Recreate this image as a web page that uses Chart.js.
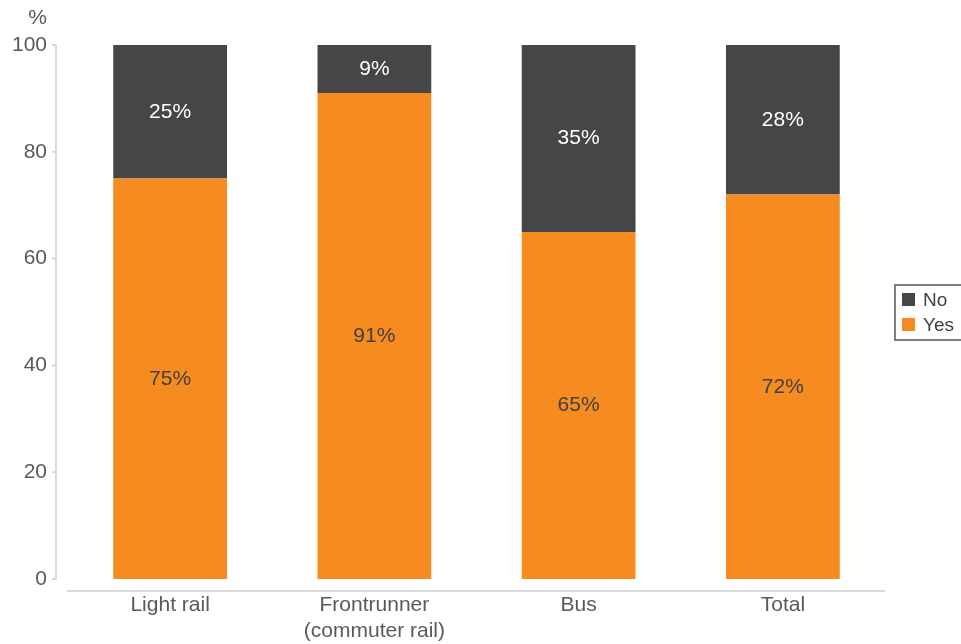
<!DOCTYPE html>
<html>
<head>
<meta charset="utf-8">
<script src="https://cdn.jsdelivr.net/npm/chart.js@4.4.0/dist/chart.umd.min.js"></script>
<style>
  html, body { margin: 0; padding: 0; background: #fff; overflow: hidden; }
  #wrap { position: relative; width: 961px; height: 644px; }
  #legend {
    position: absolute; left: 894px; top: 284px; width: 80px; height: 57px;
    border: 2px solid #7f7f7f; box-sizing: border-box;
    font-family: "Liberation Sans", Arial, sans-serif; font-size: 19px; color: #404040;
  }
  #legend div { display: flex; align-items: center; height: 25px; margin-left: 6px; }
  #legend div:first-child { margin-top: 1px; }
  #legend span.sw { width: 13px; height: 13px; display: inline-block; margin-right: 8px; }
</style>
</head>
<body>
<div id="wrap">
  <canvas id="chart" width="961" height="644"></canvas>
  <div id="legend"></div>
</div>
<script>
const categories = [["Light rail"], ["Frontrunner", "(commuter rail)"], ["Bus"], ["Total"]];
const yesValues = [75, 91, 65, 72];
const noValues = [25, 9, 35, 28];
const yTicks = [0, 20, 40, 60, 80, 100];

const orange = "#F68B1F";
const dark = "#464648";
const axisGray = "#d9d9d9";
const textGray = "#595959";
const fontFamily = "'Liberation Sans', Arial, sans-serif";

// axis lines sit a little away from the plot area, like the original
const axisPlugin = {
  id: "axisLines",
  afterDraw(chart) {
    const ctx = chart.ctx;
    const area = chart.chartArea;
    const y = chart.scales.y;
    ctx.save();
    ctx.strokeStyle = axisGray;
    ctx.lineWidth = 2;
    ctx.beginPath();
    ctx.moveTo(area.left - 12, y.getPixelForValue(100));
    ctx.lineTo(area.left - 12, y.getPixelForValue(0) + 1);
    yTicks.forEach(v => {
      const py = y.getPixelForValue(v);
      ctx.moveTo(area.left - 16, py);
      ctx.lineTo(area.left - 12, py);
    });
    ctx.moveTo(area.left - 1, area.bottom + 12);
    ctx.lineTo(area.right, area.bottom + 12);
    ctx.stroke();

    ctx.fillStyle = textGray;
    ctx.font = "21px " + fontFamily;
    ctx.textAlign = "right";
    ctx.textBaseline = "middle";
    ctx.fillText("%", area.left - 21, 18);
    ctx.restore();
  }
};

const labelPlugin = {
  id: "segLabels",
  afterDatasetsDraw(chart) {
    const ctx = chart.ctx;
    ctx.save();
    ctx.font = "21px " + fontFamily;
    ctx.textAlign = "center";
    ctx.textBaseline = "middle";
    chart.data.datasets.forEach((ds, di) => {
      const meta = chart.getDatasetMeta(di);
      meta.data.forEach((bar, i) => {
        const mid = (bar.y + bar.base) / 2;
        ctx.fillStyle = di === 0 ? "#404040" : "#ffffff";
        ctx.fillText(ds.data[i] + "%", bar.x, mid);
      });
    });
    ctx.restore();
  }
};

const chart = new Chart(document.getElementById("chart"), {
  type: "bar",
  data: {
    labels: categories,
    datasets: [
      { label: "Yes", data: yesValues, backgroundColor: orange },
      { label: "No", data: noValues, backgroundColor: dark }
    ]
  },
  options: {
    responsive: false,
    animation: false,
    layout: { padding: { top: 45, right: 76, left: 0, bottom: 0 } },
    datasets: { bar: { categoryPercentage: 1, barPercentage: 0.557 } },
    plugins: { legend: { display: false }, tooltip: { enabled: false } },
    scales: {
      x: {
        stacked: true,
        grid: { display: false, drawTicks: false },
        border: { display: false },
        ticks: { color: textGray, font: { family: fontFamily, size: 21, lineHeight: 1.25 }, padding: 13, maxRotation: 0 },
        afterFit(scale) { scale.height = 65; }
      },
      y: {
        stacked: true,
        min: 0,
        max: 100,
        afterBuildTicks(scale) { scale.ticks = yTicks.map(v => ({ value: v })); },
        grid: { display: false, drawTicks: false },
        border: { display: false },
        ticks: { color: textGray, font: { family: fontFamily, size: 21 }, padding: 21 },
        afterFit(scale) { scale.width = 68; }
      }
    }
  },
  plugins: [axisPlugin, labelPlugin]
});

// legend, No listed above Yes
const legendEl = document.getElementById("legend");
chart.data.datasets.slice().reverse().forEach(ds => {
  const row = document.createElement("div");
  row.innerHTML = '<span class="sw" style="background:' + ds.backgroundColor + '"></span>' + ds.label;
  legendEl.appendChild(row);
});
</script>
</body>
</html>
